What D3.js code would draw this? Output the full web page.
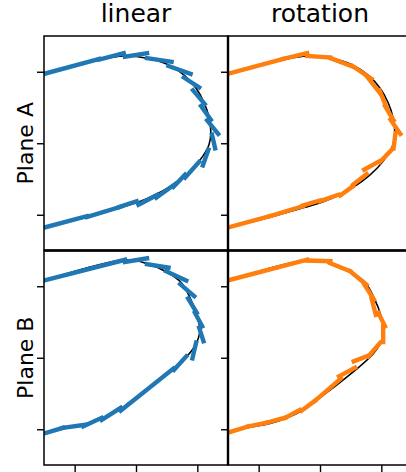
<!DOCTYPE html>
<html>
<head>
<meta charset="utf-8">
<script src="https://cdn.jsdelivr.net/npm/d3@7"></script>
<style>
  body { margin: 0; background: #fff; }
  svg { display: block; font-family: "DejaVu Sans", sans-serif; }
</style>
</head>
<body>
<svg width="406" height="472"></svg>
<script>
var columns = ["linear", "rotation"];
var rows = ["Plane A", "Plane B"];
var colors = ["#1f77b4", "#ff7f0e"];
var xTicks = [-1, 0, 1];
var yTicks = [-1, 0, 1];

// reference curve for each plane
var curveA = [[-1.50,0.97],[-0.59,1.17],[-0.20,1.22],[0.18,1.19],[0.52,1.10],[0.79,0.95],[0.98,0.77],
  [1.11,0.57],[1.19,0.36],[1.22,0.15],[1.19,-0.02],[1.09,-0.18],[0.93,-0.35],[0.69,-0.53],
  [0.34,-0.71],[0.02,-0.83],[-0.26,-0.90],[-0.80,-1.03],[-1.50,-1.18]];
var curveB = [[-1.50,1.08],[-0.18,1.37],[0.17,1.32],[0.50,1.20],[0.74,1.05],[0.88,0.84],[1.00,0.57],
  [1.04,0.37],[0.97,0.18],[0.83,0.02],[0.58,-0.17],[0.26,-0.39],[-0.10,-0.62],[-0.29,-0.74],
  [-0.56,-0.85],[-0.86,-0.93],[-1.19,-0.98],[-1.50,-1.06]];

// fitted pieces: x1, y1, x2, y2
var linearA = [[-1.50,0.97,-0.60,1.18],[-0.60,1.17,-0.20,1.26],[-0.18,1.21,0.18,1.26],[0.18,1.19,0.58,1.14],
  [0.53,1.08,0.89,0.97],[0.78,0.92,1.03,0.78],[0.93,0.74,1.12,0.55],[1.06,0.52,1.22,0.33],
  [1.16,0.32,1.34,0.13],[1.24,0.12,1.29,-0.07],[1.18,-0.09,1.09,-0.31],[1.03,-0.26,0.80,-0.48],
  [0.80,-0.44,0.61,-0.61],[0.64,-0.57,0.33,-0.76],[0.35,-0.72,0.04,-0.86],[0.01,-0.81,-0.27,-0.89],
  [-0.26,-0.89,-0.80,-1.03],[-0.80,-1.02,-1.50,-1.18]];
var rotationA = [[-1.51,0.97,-0.60,1.18],[-0.60,1.18,-0.21,1.26],[-0.21,1.22,0.17,1.20],[0.17,1.19,0.54,1.07],
  [0.53,1.08,0.84,0.90],[0.77,0.93,0.98,0.70],[0.97,0.74,1.09,0.49],[1.06,0.52,1.20,0.32],
  [1.15,0.33,1.31,0.13],[1.23,0.14,1.20,-0.07],[1.17,-0.09,0.98,-0.26],[0.97,-0.25,0.72,-0.37],
  [0.76,-0.43,0.54,-0.58],[0.54,-0.60,0.33,-0.73],[0.30,-0.72,0.00,-0.81],[0.00,-0.80,-0.28,-0.87],
  [-0.28,-0.88,-0.82,-1.02],[-0.82,-1.02,-1.51,-1.18]];
var linearB = [[-1.50,1.08,-0.18,1.37],[-0.18,1.34,0.18,1.39],[0.18,1.31,0.53,1.26],[0.49,1.21,0.82,1.08],
  [0.72,1.03,0.95,0.86],[0.85,0.83,0.99,0.63],[0.96,0.63,1.08,0.44],[1.03,0.42,1.10,0.23],
  [0.98,0.21,0.92,-0.01],[0.82,0.02,0.62,-0.17],[0.61,-0.15,-0.25,-0.74],[-0.25,-0.70,-0.56,-0.87],
  [-0.56,-0.84,-0.86,-0.96],[-0.86,-0.94,-1.19,-0.98],[-1.19,-0.98,-1.50,-1.06]];
var rotationB = [[-1.51,1.08,-0.21,1.37],[-0.21,1.36,0.17,1.35],[0.17,1.32,0.49,1.21],[0.49,1.21,0.76,1.02],
  [0.72,1.03,0.88,0.81],[0.84,0.83,0.91,0.60],[0.95,0.63,1.06,0.44],[1.03,0.44,1.03,0.22],
  [0.98,0.21,0.79,0.02],[0.79,0.03,0.55,-0.05],[0.57,-0.14,0.31,-0.26],[0.34,-0.29,-0.08,-0.60],
  [-0.08,-0.60,-0.30,-0.74],[-0.33,-0.73,-0.57,-0.84],[-0.57,-0.84,-0.88,-0.91],[-0.88,-0.91,-1.17,-0.96],
  [-1.17,-0.96,-1.51,-1.05]];

var curves = [curveA, curveB];
var pieces = [[linearA, rotationA], [linearB, rotationB]];

var svg = d3.select("svg");
var marginLeft = 44, marginTop = 36, pw = 184, ph = 214.5;

var x = d3.scaleLinear().domain([-1.5, 1.5]).range([0, pw]);
var y = d3.scaleLinear().domain([-1.5, 1.5]).range([ph, 0]);

var line = d3.line()
  .x(function(d){ return x(d[0]); })
  .y(function(d){ return y(d[1]); })
  .curve(d3.curveCatmullRom.alpha(0.5));

rows.forEach(function(rowName, r){
  columns.forEach(function(colName, c){
    var g = svg.append("g")
      .attr("transform", "translate(" + (marginLeft + c*pw) + "," + (marginTop + r*ph) + ")");

    var clipId = "clip" + r + c;
    g.append("clipPath").attr("id", clipId)
      .append("rect").attr("width", pw).attr("height", ph);

    var plot = g.append("g").attr("clip-path", "url(#" + clipId + ")");

    plot.append("path")
      .datum(curves[r])
      .attr("d", line)
      .attr("fill", "none")
      .attr("stroke", "#000")
      .attr("stroke-width", 1.6);

    plot.selectAll("line.piece")
      .data(pieces[r][c])
      .enter().append("line")
      .attr("class", "piece")
      .attr("x1", function(d){ return x(d[0]); })
      .attr("y1", function(d){ return y(d[1]); })
      .attr("x2", function(d){ return x(d[2]); })
      .attr("y2", function(d){ return y(d[3]); })
      .attr("stroke", colors[c])
      .attr("stroke-width", 4.4)
      .attr("stroke-linecap", "square");

    // ticks, no labels
    var yAxis = g.append("g")
      .call(d3.axisLeft(y).tickValues(yTicks).tickSize(7).tickFormat(""));
    yAxis.select(".domain").remove();
    yAxis.selectAll(".tick line").attr("stroke-width", 1.4);

    if (r == rows.length - 1) {
      var xAxis = g.append("g")
        .attr("transform", "translate(0," + ph + ")")
        .call(d3.axisBottom(x).tickValues(xTicks).tickSize(7).tickFormat(""));
      xAxis.select(".domain").remove();
      xAxis.selectAll(".tick line").attr("stroke-width", 1.4);
    }

    g.append("rect")
      .attr("width", pw).attr("height", ph)
      .attr("fill", "none")
      .attr("stroke", "#000")
      .attr("stroke-width", 1.5);

    if (r == 0) {
      g.append("text")
        .attr("x", pw/2).attr("y", -14)
        .attr("text-anchor", "middle")
        .attr("font-size", 25)
        .text(colName);
    }
    if (c == 0) {
      g.append("text")
        .attr("transform", "translate(-11," + (ph/2) + ") rotate(-90)")
        .attr("text-anchor", "middle")
        .attr("font-size", 22)
        .text(rowName);
    }
  });
});

// shared edges look heavier where two frames meet
svg.append("line")
  .attr("x1", marginLeft).attr("x2", 406)
  .attr("y1", marginTop + ph).attr("y2", marginTop + ph)
  .attr("stroke", "#000").attr("stroke-width", 2.4);
svg.append("line")
  .attr("x1", marginLeft + pw).attr("x2", marginLeft + pw)
  .attr("y1", marginTop).attr("y2", marginTop + 2*ph)
  .attr("stroke", "#000").attr("stroke-width", 2.4);
</script>
</body>
</html>
